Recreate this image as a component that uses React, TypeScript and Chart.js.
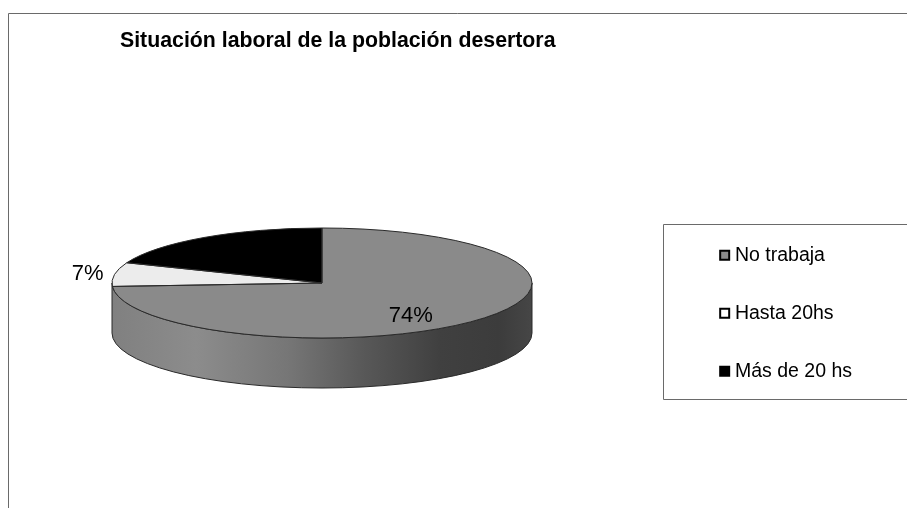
import React, { useEffect, useRef } from "react";
import { Chart, registerables } from "chart.js";

Chart.register(...registerables);

const titleText = "Situación laboral de la población desertora";
const categories = ["No trabaja", "Hasta 20hs", "Más de 20 hs"];
const shares = [74, 7, 19];
const sliceColors = ["#8a8a8a", "#ececec", "#000000"];
const legendFills = ["#8a8a8a", "#ffffff", "#000000"];
const shownLabels = [true, true, false];
// radial factors (x, y) of each percentage label, relative to the flattened rim
const labelFactorX = [0.58, 1.13, 0];
const labelFactorY = [0.87, 1.05, 0];

const FONT = "'Liberation Sans', Arial, sans-serif";
const CX = 322;
const CY = 283;
const RX = 210;
const RY = 55;
const DEPTH = 50;
const OUTLINE = "#2a2a2a";

const pie3d = {
  id: "pie3d",
  beforeDraw(chart: any) {
    const { ctx } = chart;
    ctx.save();
    ctx.fillStyle = "#ffffff";
    ctx.fillRect(0, 0, chart.width, chart.height);
    ctx.strokeStyle = "#6a6a6a";
    ctx.lineWidth = 1;
    ctx.beginPath();
    ctx.moveTo(8.5, chart.height);
    ctx.lineTo(8.5, 13.5);
    ctx.lineTo(chart.width, 13.5);
    ctx.stroke();
    ctx.beginPath();
    ctx.moveTo(chart.width, 224.5);
    ctx.lineTo(663.5, 224.5);
    ctx.lineTo(663.5, 399.5);
    ctx.lineTo(chart.width, 399.5);
    ctx.stroke();
    ctx.restore();
  },
  beforeDatasetsDraw(chart: any) {
    const { ctx } = chart;
    const arc = chart.getDatasetMeta(0).data[0];
    const grad = ctx.createLinearGradient(CX - RX, 0, CX + RX, 0);
    grad.addColorStop(0, "#808080");
    grad.addColorStop(0.2, "#8c8c8c");
    grad.addColorStop(0.42, "#767676");
    grad.addColorStop(0.6, "#585858");
    grad.addColorStop(0.78, "#404040");
    grad.addColorStop(0.92, "#3c3c3c");
    grad.addColorStop(1, "#464646");
    ctx.save();
    ctx.beginPath();
    ctx.ellipse(CX, CY, RX, RY, 0, 0, Math.PI);
    ctx.lineTo(CX - RX, CY + DEPTH);
    ctx.ellipse(CX, CY + DEPTH, RX, RY, 0, Math.PI, 0, true);
    ctx.closePath();
    ctx.fillStyle = grad;
    ctx.fill();
    ctx.strokeStyle = OUTLINE;
    ctx.lineWidth = 1;
    ctx.stroke();
    ctx.restore();
    ctx.save();
    ctx.translate(CX, CY);
    ctx.scale(RX / arc.outerRadius, RY / arc.outerRadius);
    ctx.translate(-arc.x, -arc.y);
  },
  afterDatasetsDraw(chart: any) {
    const { ctx } = chart;
    ctx.restore();
    const arcs = chart.getDatasetMeta(0).data;
    arcs.forEach((a: any, i: number) => {
      ctx.save();
      ctx.save();
      ctx.translate(CX, CY);
      ctx.scale(RX / a.outerRadius, RY / a.outerRadius);
      ctx.translate(-a.x, -a.y);
      ctx.beginPath();
      ctx.moveTo(a.x, a.y);
      ctx.arc(a.x, a.y, a.outerRadius, a.startAngle, a.endAngle);
      ctx.closePath();
      ctx.restore();
      ctx.strokeStyle = OUTLINE;
      ctx.lineWidth = 1;
      ctx.stroke();
      ctx.restore();
      if (shownLabels[i]) {
        const mid = (a.startAngle + a.endAngle) / 2;
        ctx.save();
        ctx.font = `22px ${FONT}`;
        ctx.fillStyle = "#000000";
        ctx.textAlign = "center";
        ctx.textBaseline = "middle";
        ctx.fillText(
          `${shares[i]}%`,
          CX + RX * Math.cos(mid) * labelFactorX[i],
          CY + RY * Math.sin(mid) * labelFactorY[i]
        );
        ctx.restore();
      }
    });
  },
};

export default function App() {
  const ref = useRef<HTMLCanvasElement>(null);
  useEffect(() => {
    document.body.style.margin = "0";
    const chart = new Chart(ref.current as HTMLCanvasElement, {
      type: "pie",
      data: {
        labels: categories,
        datasets: [
          {
            data: shares,
            backgroundColor: sliceColors,
            borderWidth: 0,
            clip: false,
          } as any,
        ],
      },
      options: {
        responsive: false,
        animation: false,
        layout: { padding: { left: 120, right: 45, top: 0, bottom: 50 } },
        plugins: {
          tooltip: { enabled: false },
          title: {
            display: true,
            text: titleText,
            align: "start",
            color: "#000000",
            font: { family: FONT, size: 21.3, weight: "bold" },
            padding: { top: 28, bottom: 115 },
          },
          legend: {
            display: true,
            position: "right",
            fullSize: false,
            onClick: () => {},
            labels: {
              usePointStyle: true,
              boxWidth: 1,
              boxHeight: 9,
              padding: 38.5,
              color: "#000000",
              font: { family: FONT, size: 19.5 },
              generateLabels: () =>
                categories.map((text, i) => ({
                  text,
                  fillStyle: legendFills[i],
                  strokeStyle: "#000000",
                  lineWidth: 2,
                  pointStyle: "rect",
                  hidden: false,
                  index: i,
                  datasetIndex: 0,
                })),
            },
          },
        },
      },
      plugins: [pie3d],
    } as any);
    return () => chart.destroy();
  }, []);
  return <canvas ref={ref} width={907} height={508} style={{ display: "block" }} />;
}
